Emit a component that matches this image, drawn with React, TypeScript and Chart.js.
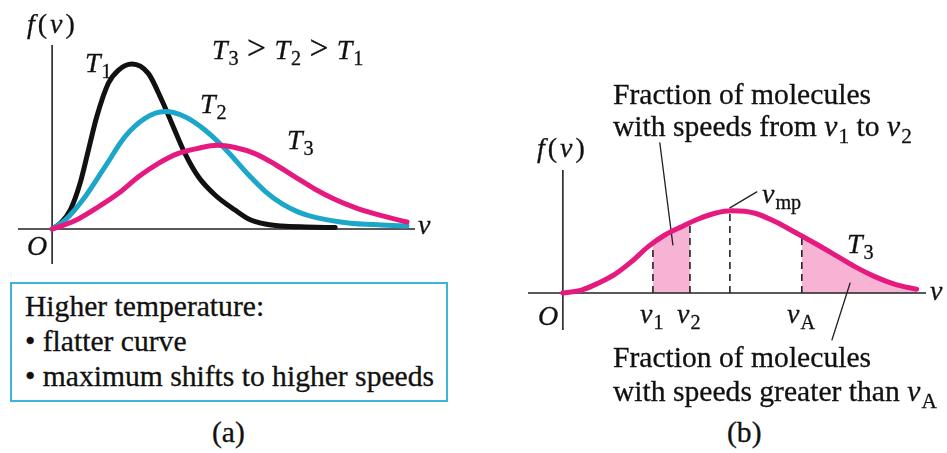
import React, { useEffect, useRef } from "react";
import { Chart, registerables } from "chart.js";

Chart.register(...registerables);

// ---------- Panel (a): Maxwell speed distributions ----------
const xRangeA = [-9.4, 100];
const yRangeA = [-19, 100];

const vT1 = [0, 2.5, 5.0, 7.7, 10.0, 12.3, 15.5, 18.3, 22.0, 26.5, 30.2, 33.0, 36.6, 40.3, 44.9, 50.4, 54.0, 58.7, 63.3, 70.0, 78.0];
const fT1 = [0, 3.5, 10.3, 24.8, 42.9, 61.0, 79.2, 86.4, 89.7, 84.6, 70.1, 57.4, 41.1, 28.4, 18.5, 10.3, 5.6, 2.7, 1.6, 1.1, 0.8];

const vT2 = [0, 3.6, 9.1, 14.6, 20.1, 25.6, 31.1, 36.6, 42.1, 47.7, 54.1, 58.7, 63.3, 67.9, 72.5, 81.6, 90.8, 97.8];
const fT2 = [0, 4.9, 17.6, 33.9, 50.2, 60.1, 63.8, 61.0, 53.8, 43.5, 29.5, 20.5, 13.8, 9.2, 6.3, 3.3, 2.2, 1.6];

const vT3 = [0, 3.0, 7.25, 12.8, 18.3, 23.8, 29.3, 34.8, 40.3, 45.5, 50.4, 55.9, 61.4, 66.9, 72.5, 78.0, 83.5, 89.0, 94.5, 97.8];
const fT3 = [0, 2.0, 5.5, 12.1, 19.4, 28.4, 35.7, 41.1, 43.9, 45.5, 44.3, 41.0, 35.2, 28.4, 21.6, 16.0, 11.6, 8.2, 5.4, 3.8];

// ---------- Panel (b): one distribution with marked speeds ----------
const xRangeB = [-9.6, 100];
const yRangeB = [-20.1, 66.8];

const vB = [0, 5.15, 9.7, 14.3, 18.9, 23.5, 28.1, 32.7, 37.3, 41.9, 46.5, 52.9, 58.4, 63.9, 69.4, 74.9, 80.4, 85.9, 91.5, 97.4];
const fB = [0, 1.6, 5.3, 10.1, 17.0, 25.2, 31.5, 36.0, 40.2, 43.3, 44.6, 43.3, 38.8, 33.0, 27.0, 20.7, 14.3, 8.9, 4.7, 2.0];

const markerNames = ["v1", "v2", "vmp", "vA"];
const markerV = [24.8, 35.0, 46.0, 65.8];
const markerF = [26.8, 38.0, 44.6, 30.9];

// pointer lines of the annotations (data coordinates of panel b)
const leaderV1V2_v = [26.7, 30.3];
const leaderV1V2_f = [81.5, 26.1];
const leaderVmp_v = [46.0, 53.4];
const leaderVmp_f = [46.2, 54.9];
const leaderVA_v = [79.1, 74.1];
const leaderVA_f = [5.4, -25.5];

const BLACK = "#111111";
const BLUE = "#1ca7c9";
const PINK = "#e6197f";
const SHADE = "#f6b3d3";
const BOX = "#3cb5d6";
const SERIF = '"Liberation Serif", "Times New Roman", Times, serif';

const pts = (xs: number[], ys: number[]) => xs.map((x, i) => ({ x, y: ys[i] }));

const lineDs = (data: any[], color: string, width: number, order: number, extra: any = {}) => ({
  data,
  borderColor: color,
  borderWidth: width,
  pointRadius: 0,
  fill: false,
  clip: false,
  order,
  borderCapStyle: "round",
  ...extra,
});

function baseOptions(xr: number[], yr: number[], padding: any) {
  return {
    responsive: false,
    animation: false,
    events: [],
    layout: { padding },
    plugins: { legend: { display: false }, tooltip: { enabled: false } },
    scales: {
      x: { type: "linear", min: xr[0], max: xr[1], display: false },
      y: { type: "linear", min: yr[0], max: yr[1], display: false },
    },
  } as any;
}

function ChartCanvas({ config, left, top, width, height }: any) {
  const ref = useRef<HTMLCanvasElement | null>(null);
  useEffect(() => {
    const chart = new Chart(ref.current as HTMLCanvasElement, config());
    return () => chart.destroy();
  }, []);
  return (
    <canvas
      ref={ref}
      width={width}
      height={height}
      style={{ position: "absolute", left, top, width, height }}
    />
  );
}

function configA() {
  const datasets = [
    lineDs(pts(vT3, fT3), PINK, 5, 0, { cubicInterpolationMode: "monotone" }),
    lineDs(pts(vT2, fT2), BLUE, 5, 1, { cubicInterpolationMode: "monotone" }),
    lineDs(pts(vT1, fT1), BLACK, 5, 2, { cubicInterpolationMode: "monotone" }),
    lineDs(pts(xRangeA, [0, 0]), "#222", 1.6, 5, { borderCapStyle: "butt" }),
    lineDs(pts([0, 0], yRangeA), "#222", 1.6, 5, { borderCapStyle: "butt" }),
  ];
  return {
    type: "line",
    data: { datasets },
    options: baseOptions(xRangeA, yRangeA, { left: 18, top: 45, right: 55, bottom: 16 }),
  } as any;
}

function shadePoints(lo: number, hi: number, fLo: number, fHi: number) {
  const inner = vB.map((v, i) => ({ x: v, y: fB[i] })).filter((p) => p.x > lo && p.x < hi);
  return [{ x: lo, y: fLo }, ...inner, { x: hi, y: fHi }];
}

function configB() {
  const endV = vB[vB.length - 1];
  const endF = fB[fB.length - 1];
  const datasets: any[] = [
    lineDs(pts(vB, fB), PINK, 5, 0, { cubicInterpolationMode: "monotone" }),
  ];
  markerV.forEach((mv, i) => {
    datasets.push(
      lineDs(pts([mv, mv], [0, markerF[i]]), "#222", 1.6, 1, { borderDash: [7, 5], borderCapStyle: "butt", label: markerNames[i] })
    );
  });
  datasets.push(
    lineDs(pts(leaderV1V2_v, leaderV1V2_f), "#222", 1.3, 1),
    lineDs(pts(leaderVmp_v, leaderVmp_f), "#222", 1.3, 1),
    lineDs(pts(leaderVA_v, leaderVA_f), "#222", 1.3, 1),
    lineDs(pts(xRangeB, [0, 0]), "#222", 1.6, 3, { borderCapStyle: "butt" }),
    lineDs(pts([0, 0], yRangeB), "#222", 1.6, 3, { borderCapStyle: "butt" }),
    lineDs(shadePoints(markerV[0], markerV[1], markerF[0], markerF[1]), "rgba(0,0,0,0)", 0, 4, {
      fill: "origin",
      backgroundColor: SHADE,
      cubicInterpolationMode: "monotone",
    }),
    lineDs(shadePoints(markerV[3], endV, markerF[3], endF), "rgba(0,0,0,0)", 0, 4, {
      fill: "origin",
      backgroundColor: SHADE,
      cubicInterpolationMode: "monotone",
    })
  );
  return {
    type: "line",
    data: { datasets },
    options: baseOptions(xRangeB, yRangeB, { left: 48, top: 110, right: 21, bottom: 30 }),
  } as any;
}

function Label({ x, y, size = 29.6, children, style }: any) {
  return (
    <div
      style={{
        position: "absolute",
        left: x,
        top: y - 0.8375 * size,
        fontSize: size,
        lineHeight: `${size}px`,
        fontFamily: SERIF,
        whiteSpace: "nowrap",
        color: "#111",
        WebkitTextStroke: "0.3px #111",
        ...style,
      }}
    >
      {children}
    </div>
  );
}
const I = ({ children }: any) => <span style={{ fontStyle: "italic" }}>{children}</span>;
const Sub = ({ children }: any) => (
  <span style={{ fontSize: "0.72em", position: "relative", top: "0.3em", fontStyle: "normal", marginLeft: "0.05em" }}>
    {children}
  </span>
);
const Gt = () => <span style={{ margin: "0 0.25em", fontSize: "1.2em" }}>&gt;</span>;
const FV = () => (
  <span style={{ letterSpacing: "3px" }}>
    <I>f</I>(<I>v</I>)
  </span>
);

export default function App() {
  return (
    <div
      style={{
        position: "fixed",
        left: 0,
        top: 0,
        width: 947,
        height: 453,
        background: "#fff",
        overflow: "hidden",
      }}
    >
      <ChartCanvas config={configA} left={0} top={0} width={470} height={280} />
      <ChartCanvas config={configB} left={480} top={60} width={467} height={300} />

      {/* Panel (a) labels */}
      <Label x={27} y={33} size={28}><FV /></Label>
      <Label x={85} y={72} size={28}><I>T</I><Sub>1</Sub></Label>
      <Label x={212} y={57} size={28}>
        <I>T</I><Sub>3</Sub><Gt /><I>T</I><Sub>2</Sub><Gt /><I>T</I><Sub>1</Sub>
      </Label>
      <Label x={200} y={113} size={28}><I>T</I><Sub>2</Sub></Label>
      <Label x={287} y={149} size={28}><I>T</I><Sub>3</Sub></Label>
      <Label x={27} y={255} size={28}><I>O</I></Label>
      <Label x={418} y={234} size={28}><I>v</I></Label>

      <div
        style={{
          position: "absolute",
          left: 10,
          top: 282,
          width: 438,
          height: 120,
          border: `2px solid ${BOX}`,
          boxSizing: "border-box",
        }}
      />
      <Label x={25} y={317}>Higher temperature:</Label>
      <Label x={25} y={352}>• flatter curve</Label>
      <Label x={25} y={387}>• maximum shifts to higher speeds</Label>
      <Label x={212} y={443}>(a)</Label>

      {/* Panel (b) labels */}
      <Label x={613} y={105}>Fraction of molecules</Label>
      <Label x={613} y={137}>
        with speeds from <I>v</I><Sub>1</Sub> to <I>v</I><Sub>2</Sub>
      </Label>
      <Label x={537} y={157} size={28}><FV /></Label>
      <Label x={762} y={203} size={28}><I>v</I><Sub>mp</Sub></Label>
      <Label x={847} y={253} size={28}><I>T</I><Sub>3</Sub></Label>
      <Label x={930} y={300} size={28}><I>v</I></Label>
      <Label x={538} y={325} size={28}><I>O</I></Label>
      <Label x={640} y={323} size={28}><I>v</I><Sub>1</Sub></Label>
      <Label x={677} y={323} size={28}><I>v</I><Sub>2</Sub></Label>
      <Label x={787} y={323} size={28}><I>v</I><Sub>A</Sub></Label>
      <Label x={613} y={368}>Fraction of molecules</Label>
      <Label x={613} y={402}>
        with speeds greater than <I>v</I><Sub>A</Sub>
      </Label>
      <Label x={727} y={443}>(b)</Label>
    </div>
  );
}
